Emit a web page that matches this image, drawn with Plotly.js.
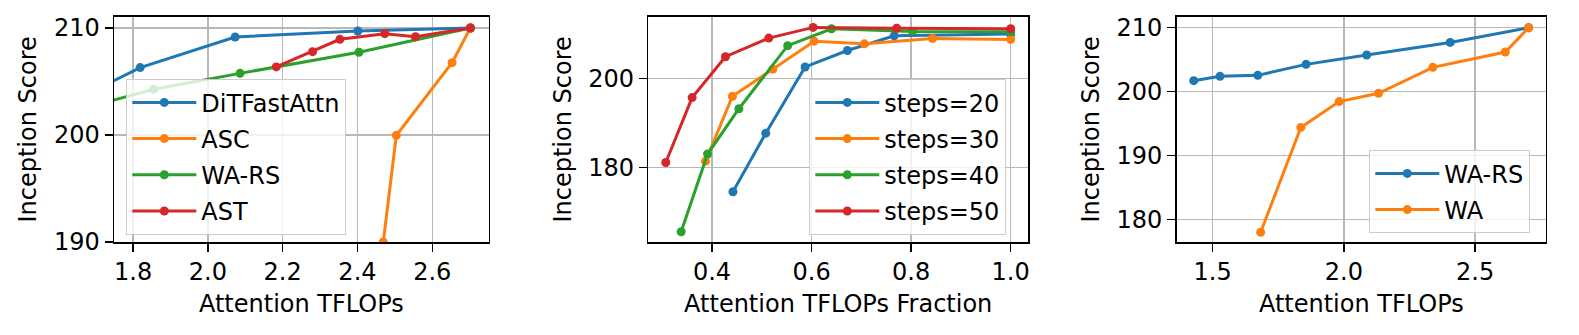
<!DOCTYPE html>
<html>
<head>
<meta charset="utf-8">
<script src="https://cdn.plot.ly/plotly-3.0.1.min.js"></script>
<style>
  html, body { margin: 0; padding: 0; background: #fff; }
  #chart { width: 1579px; height: 335px; }
</style>
</head>
<body>
<div id="chart"></div>
<script>
// panel 1: IS vs attention TFLOPs, methods
const p1DitX = [1.60, 1.819, 2.073, 2.401, 2.702];
const p1DitY = [202.5, 206.3, 209.16, 209.72, 210.0];
const p1AscX = [2.44, 2.469, 2.504, 2.653, 2.702];
const p1AscY = [181.7, 190.0, 199.97, 206.76, 210.0];
const p1WarsX = [1.428, 1.528, 1.672, 1.855, 2.086, 2.404, 2.702];
const p1WarsY = [201.72, 202.4, 202.55, 204.27, 205.76, 207.73, 210.0];
const p1AstX = [2.183, 2.28, 2.353, 2.473, 2.555, 2.702];
const p1AstY = [206.36, 207.79, 208.94, 209.47, 209.19, 210.0];

// panel 2: IS vs attention TFLOPs fraction, per step count
const s20X = [0.442, 0.508, 0.587, 0.672, 0.766, 1.0];
const s20Y = [174.5, 187.7, 202.6, 206.3, 209.6, 210.0];
const s30X = [0.387, 0.441, 0.522, 0.605, 0.706, 0.843, 1.0];
const s30Y = [181.4, 196.0, 202.1, 208.4, 207.8, 209.0, 208.8];
const s40X = [0.338, 0.391, 0.454, 0.552, 0.640, 0.803, 1.0];
const s40Y = [165.5, 183.0, 193.2, 207.4, 211.2, 210.6, 210.5];
const s50X = [0.307, 0.360, 0.427, 0.514, 0.603, 0.771, 1.0];
const s50Y = [181.1, 195.7, 204.9, 209.1, 211.5, 211.3, 211.2];

// panel 3: WA-RS vs WA
const p3WarsX = [1.428, 1.528, 1.672, 1.856, 2.087, 2.405, 2.704];
const p3WarsY = [201.72, 202.4, 202.55, 204.27, 205.73, 207.7, 210.0];
const p3WaX = [1.683, 1.836, 1.982, 2.132, 2.339, 2.615, 2.704];
const p3WaY = [178.0, 194.4, 198.44, 199.74, 203.8, 206.2, 210.0];

const BLUE = "#1f77b4", ORANGE = "#ff7f0e", GREEN = "#2ca02c", RED = "#d62728";
const FONT = "DejaVu Sans, sans-serif";
const FS = 24;

function line(x, y, name, color, xa, ya, leg) {
    return {
        x: x, y: y, name: name,
        type: "scatter", mode: "lines+markers",
        line: { color: color, width: 3 },
        marker: { color: color, size: 9 },
        xaxis: xa, yaxis: ya, legend: leg,
        legendgroup: leg + name,
        cliponaxis: true
    };
}

const traces = [
    line(p1DitX, p1DitY, "DiTFastAttn", BLUE, "x", "y", "legend"),
    line(p1AscX, p1AscY, "ASC", ORANGE, "x", "y", "legend"),
    line(p1WarsX, p1WarsY, "WA-RS", GREEN, "x", "y", "legend"),
    line(p1AstX, p1AstY, "AST", RED, "x", "y", "legend"),

    line(s20X, s20Y, "steps=20", BLUE, "x2", "y2", "legend2"),
    line(s30X, s30Y, "steps=30", ORANGE, "x2", "y2", "legend2"),
    line(s40X, s40Y, "steps=40", GREEN, "x2", "y2", "legend2"),
    line(s50X, s50Y, "steps=50", RED, "x2", "y2", "legend2"),

    line(p3WarsX, p3WarsY, "WA-RS", BLUE, "x3", "y3", "legend3"),
    line(p3WaX, p3WaY, "WA", ORANGE, "x3", "y3", "legend3")
];

function axis(extra) {
    return Object.assign({
        showline: true, mirror: true, linecolor: "#000", linewidth: 1.5,
        showgrid: true, gridcolor: "#b8b8b8", gridwidth: 1.3,
        zeroline: false,
        ticks: "outside", ticklen: 8, tickwidth: 1.3, tickcolor: "#000",
        tickfont: { family: FONT, size: FS, color: "#000" }
    }, extra);
}

function xtitle(text) {
    return { text: text, font: { family: FONT, size: FS, color: "#000" }, standoff: 10 };
}
function ytitle() {
    return { text: "Inception Score", font: { family: FONT, size: FS, color: "#000" }, standoff: 10 };
}

function legendBox(x, y) {
    return {
        x: x, y: y, xanchor: "left", yanchor: "top",
        xref: "paper", yref: "paper",
        bgcolor: "rgba(255,255,255,0.8)", bordercolor: "#cccccc", borderwidth: 1.3,
        font: { family: FONT, size: FS, color: "#000" },
        itemwidth: 64, tracegroupgap: 2
    };
}

const yDom = [0.2776, 0.950];

const layout = {
    width: 1579, height: 335,
    margin: { l: 0, r: 0, t: 0, b: 0 },
    paper_bgcolor: "#fff", plot_bgcolor: "#fff",
    font: { family: FONT, size: FS, color: "#000" },

    xaxis: axis({ domain: [0.0722, 0.3095], range: [1.749, 2.751], tickvals: [1.8, 2.0, 2.2, 2.4, 2.6], ticktext: ["1.8", "2.0", "2.2", "2.4", "2.6"], title: xtitle("Attention TFLOPs"), anchor: "y" }),
    yaxis: axis({ domain: yDom, range: [190, 211.05], tickvals: [190, 200, 210], title: ytitle(), anchor: "x" }),

    xaxis2: axis({ domain: [0.4106, 0.6511], range: [0.272, 1.035], tickvals: [0.4, 0.6, 0.8, 1.0], ticktext: ["0.4", "0.6", "0.8", "1.0"], title: xtitle("Attention TFLOPs Fraction"), anchor: "y2" }),
    yaxis2: axis({ domain: yDom, range: [163.2, 213.9], tickvals: [180, 200], title: ytitle(), anchor: "x2" }),

    xaxis3: axis({ domain: [0.7452, 0.9791], range: [1.363, 2.77], tickvals: [1.5, 2.0, 2.5], ticktext: ["1.5", "2.0", "2.5"], title: xtitle("Attention TFLOPs"), anchor: "y3" }),
    yaxis3: axis({ domain: yDom, range: [176.47, 211.72], tickvals: [180, 190, 200, 210], title: ytitle(), anchor: "x3" }),

    legend: legendBox(126 / 1579, 1 - 79 / 335),
    legend2: legendBox(809 / 1579, 1 - 79 / 335),
    legend3: legendBox(1369 / 1579, 1 - 150 / 335),
    showlegend: true
};

Plotly.newPlot("chart", traces, layout, { staticPlot: true, displayModeBar: false });
</script>
</body>
</html>
